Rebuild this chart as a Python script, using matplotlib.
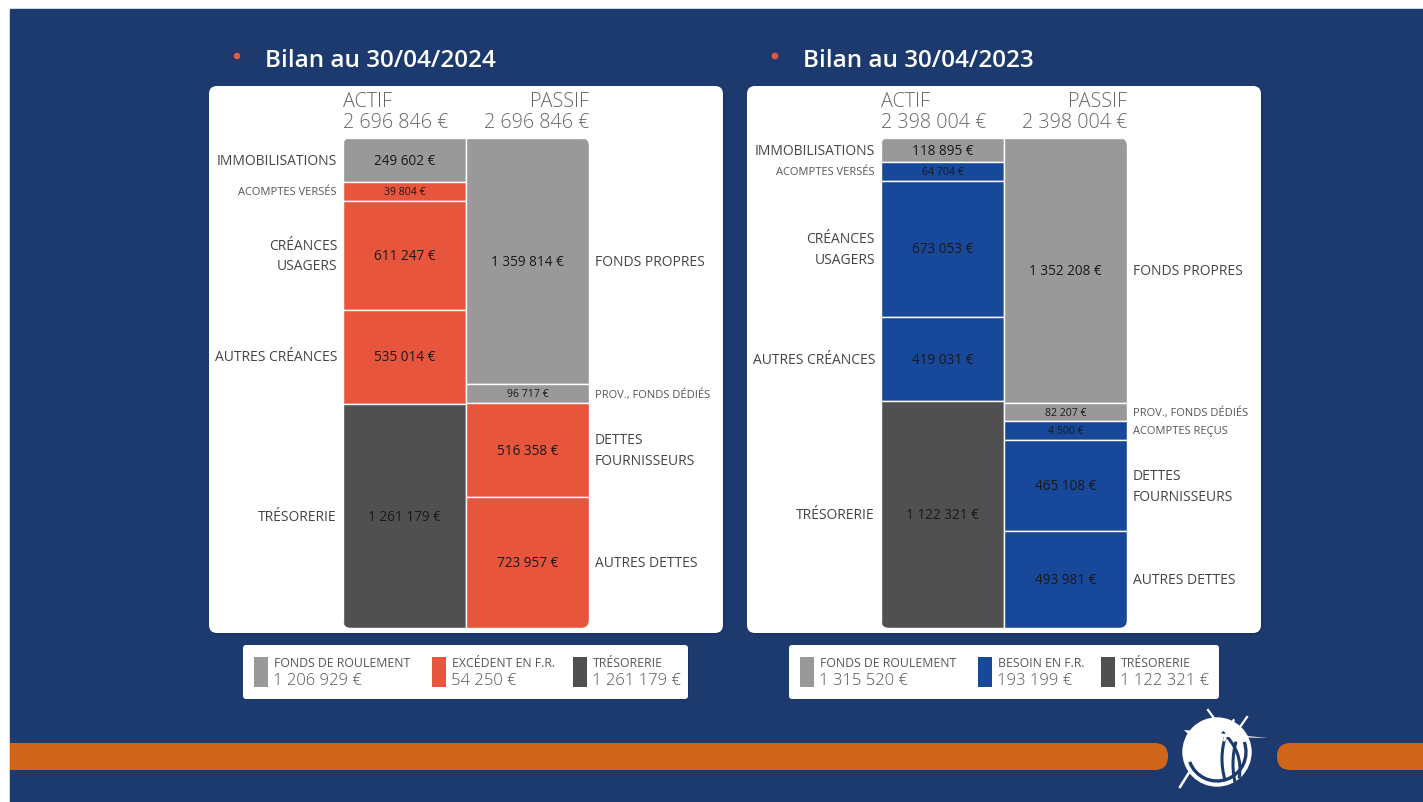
import numpy as np
import matplotlib
matplotlib.use("Agg")
import matplotlib.pyplot as plt
import matplotlib.transforms as mtrans
from matplotlib.patches import FancyBboxPatch, Rectangle, Circle, Arc, Polygon

plt.rcParams['font.family'] = ['Open Sans', 'DejaVu Sans']

# ---------------- data ----------------
titles = ["Bilan au 30/04/2024", "Bilan au 30/04/2023"]

actif_labels_2024 = ["IMMOBILISATIONS", "ACOMPTES VERSÉS", "CRÉANCES\nUSAGERS", "AUTRES CRÉANCES", "TRÉSORERIE"]
actif_values_2024 = [249602, 39804, 611247, 535014, 1261179]
actif_kinds_2024 = ["fr", "bfr", "bfr", "bfr", "treso"]
passif_labels_2024 = ["FONDS PROPRES", "PROV., FONDS DÉDIÉS", "DETTES\nFOURNISSEURS", "AUTRES DETTES"]
passif_values_2024 = [1359814, 96717, 516358, 723957]
passif_kinds_2024 = ["fr", "fr", "bfr", "bfr"]
legend_labels_2024 = ["FONDS DE ROULEMENT", "EXCÉDENT EN F.R.", "TRÉSORERIE"]
legend_values_2024 = [1206929, 54250, 1261179]

actif_labels_2023 = ["IMMOBILISATIONS", "ACOMPTES VERSÉS", "CRÉANCES\nUSAGERS", "AUTRES CRÉANCES", "TRÉSORERIE"]
actif_values_2023 = [118895, 64704, 673053, 419031, 1122321]
actif_kinds_2023 = ["fr", "bfr", "bfr", "bfr", "treso"]
passif_labels_2023 = ["FONDS PROPRES", "PROV., FONDS DÉDIÉS", "ACOMPTES REÇUS", "DETTES\nFOURNISSEURS", "AUTRES DETTES"]
passif_values_2023 = [1352208, 82207, 4500, 465108, 493981]
passif_kinds_2023 = ["fr", "fr", "bfr", "bfr", "bfr"]
legend_labels_2023 = ["FONDS DE ROULEMENT", "BESOIN EN F.R.", "TRÉSORERIE"]
legend_values_2023 = [1315520, 193199, 1122321]

# ---------------- style ----------------
BG = "#1c3a6e"
ORANGE = "#d0661c"
GRAY = "#999999"
DARK = "#505050"
RED = "#e8553d"
BLUE = "#18489a"
MIN_SHARE = 0.0385  # minimum visual height of a segment (share of stack)


def fmt(v):
    return f"{v:,}".replace(",", " ") + " €"


def display_heights(vals, min_share):
    vals = np.asarray(vals, dtype=float)
    total = vals.sum()
    small = vals < min_share * total
    rest = total - small.sum() * min_share * total
    h = np.where(small, min_share * total, vals * rest / vals[~small].sum())
    return h, small


W, H = 1423, 803
fig = plt.figure(figsize=(W / 100, H / 100), dpi=100, facecolor="white")

bg = fig.add_axes([0, 0, 1, 1])
bg.set_xlim(0, W)
bg.set_ylim(H, 0)
bg.axis("off")
bg_rect = Rectangle((10, 10), W - 10, H - 10, color=BG, zorder=0)
bg.add_patch(bg_rect)

# orange bands
b1 = FancyBboxPatch((-30, 744), 1198, 27, boxstyle="round,pad=0,rounding_size=13.5",
                    color=ORANGE, lw=0, zorder=1)
bg.add_patch(b1)
b1.set_clip_path(bg_rect)
b2 = FancyBboxPatch((1277, 744), 220, 27, boxstyle="round,pad=0,rounding_size=13.5",
                    color=ORANGE, lw=0, zorder=1)
bg.add_patch(b2)
b2.set_clip_path(bg_rect)

# logo (stylised ball)
bg.add_patch(Circle((1217, 753), 34, color="white", zorder=2))
bg.add_patch(Arc((1217, 753), 58, 58, theta1=-20, theta2=160, color=BG, lw=2.4, zorder=3))
bg.add_patch(Arc((1262, 760), 80, 110, theta1=150, theta2=215, color=BG, lw=2.2, zorder=3))
bg.add_patch(Arc((1268, 765), 70, 110, theta1=145, theta2=215, color=BG, lw=2.2, zorder=3))
bg.add_patch(Arc((1185, 770), 110, 100, theta1=-45, theta2=10, color=BG, lw=2.2, zorder=3))
bg.add_patch(Arc((1160, 800), 120, 110, theta1=10, theta2=60, color=BG, lw=2.0, zorder=3))
bg.add_patch(Polygon([[1184, 731], [1268, 739], [1190, 737]], closed=True, color="white", lw=0, zorder=4))
bg.add_patch(Arc((1262, 760), 80, 110, theta1=205, theta2=235, color="white", lw=1.8, zorder=4))
bg.add_patch(Arc((1185, 770), 110, 100, theta1=-70, theta2=-45, color="white", lw=1.8, zorder=4))
bg.plot([1208, 1216], [711, 722], color="white", lw=1.6, zorder=4)
bg.plot([1247, 1240], [718, 728], color="white", lw=1.6, zorder=4)
bg.plot([1180, 1190], [788, 772], color="white", lw=1.8, zorder=4)

panels = [
    dict(x0=209, title=titles[0], al=actif_labels_2024, av=actif_values_2024, ak=actif_kinds_2024,
         pl=passif_labels_2024, pv=passif_values_2024, pk=passif_kinds_2024,
         ll=legend_labels_2024, lv=legend_values_2024, bfr=RED, leg=(243, 445), offs=[11, 189, 330]),
    dict(x0=747, title=titles[1], al=actif_labels_2023, av=actif_values_2023, ak=actif_kinds_2023,
         pl=passif_labels_2023, pv=passif_values_2023, pk=passif_kinds_2023,
         ll=legend_labels_2023, lv=legend_values_2023, bfr=BLUE, leg=(789, 430), offs=[11, 189, 312]),
]

for p in panels:
    x0 = p["x0"]
    colors = {"fr": GRAY, "bfr": p["bfr"], "treso": DARK}
    # title
    bg.add_patch(Circle((x0 + 28, 57), 2.6, color=RED, zorder=2))
    bg.text(x0 + 56, 61, p["title"], color="white", fontsize=17.5, fontweight="semibold",
            va="center", ha="left", zorder=3)
    # card
    bg.add_patch(FancyBboxPatch((x0 + 1.5, 88.5), 514, 547, boxstyle="round,pad=0,rounding_size=8",
                                color="#0e2550", alpha=0.35, lw=0, zorder=1))
    bg.add_patch(FancyBboxPatch((x0, 87), 514, 547, boxstyle="round,pad=0,rounding_size=8",
                                color="white", lw=0, zorder=2))
    # legend box
    lx, lw_ = p["leg"]
    bg.add_patch(FancyBboxPatch((lx + 1, 647), lw_, 54, boxstyle="round,pad=0,rounding_size=3",
                                color="#0e2550", alpha=0.35, lw=0, zorder=1))
    bg.add_patch(FancyBboxPatch((lx, 646), lw_, 54, boxstyle="round,pad=0,rounding_size=3",
                                color="white", lw=0, zorder=2))
    for off, lab, val, kind in zip(p["offs"], p["ll"], p["lv"], ["fr", "bfr", "treso"]):
        bg.add_patch(Rectangle((lx + off, 658), 14, 30, color=colors[kind], lw=0, zorder=3))
        bg.text(lx + off + 20, 664, lab, fontsize=8.8, color="#555555", va="center", ha="left", zorder=3)
        bg.text(lx + off + 19, 681, fmt(val), fontsize=12, color="#555555", va="center", ha="left",
                zorder=3, fontweight="light")

    # chart axes
    bx = x0 + 134
    ax = fig.add_axes([bx / W, 1 - 629 / H, 246 / W, 490 / H])
    ax.patch.set_alpha(0)
    ax.axis("off")
    ax.set_zorder(5)
    total = float(np.sum(p["av"]))
    ax.set_xlim(-0.5, 1.5)
    ax.set_ylim(total, 0)

    clip = FancyBboxPatch((0, 0), 1, 1, boxstyle="round,pad=0,rounding_size=0.034",
                          mutation_aspect=246 / 490, transform=ax.transAxes, facecolor="none",
                          edgecolor="none")
    ax.add_patch(clip)

    left_tr = mtrans.offset_copy(ax.transData, fig=fig, x=-6, y=0, units="dots")
    right_tr = mtrans.offset_copy(ax.transData, fig=fig, x=6, y=0, units="dots")

    for xi, labels, vals, kinds in [(0, p["al"], p["av"], p["ak"]), (1, p["pl"], p["pv"], p["pk"])]:
        h, small = display_heights(vals, MIN_SHARE)
        bottoms = np.concatenate([[0], np.cumsum(h)[:-1]])
        bars = ax.bar([xi] * len(vals), h, bottom=bottoms, width=1.0,
                      color=[colors[k] for k in kinds], edgecolor="white", linewidth=1.0, align="center")
        for b in bars:
            b.set_clip_path(clip)
        for lab, v, hb, bt, sm in zip(labels, vals, h, bottoms, small):
            yc = bt + hb / 2
            ax.text(xi, yc, fmt(v), ha="center", va="center", fontsize=7.6 if sm else 9.8,
                    color="#1a1a1a")
            kw = dict(va="center", fontsize=8.0 if sm else 10, color="#555555" if sm else "#444444",
                      linespacing=1.5)
            if xi == 0:
                ax.text(-0.5, yc, lab, transform=left_tr, ha="right", **kw)
            else:
                ax.text(1.5, yc, lab, transform=right_tr, ha="left", **kw)

    # headers
    hy1 = (629 - 102) / 490
    hy2 = (629 - 123) / 490
    hk = dict(transform=ax.transAxes, va="center", fontsize=14.2, color="#666666", fontweight="light")
    ax.text(0, hy1, "ACTIF", ha="left", **hk)
    ax.text(0, hy2, fmt(int(np.sum(p["av"]))), ha="left", **hk)
    ax.text(1, hy1, "PASSIF", ha="right", **hk)
    ax.text(1, hy2, fmt(int(np.sum(p["pv"]))), ha="right", **hk)

fig.savefig("out.png", dpi=100, facecolor="white")
